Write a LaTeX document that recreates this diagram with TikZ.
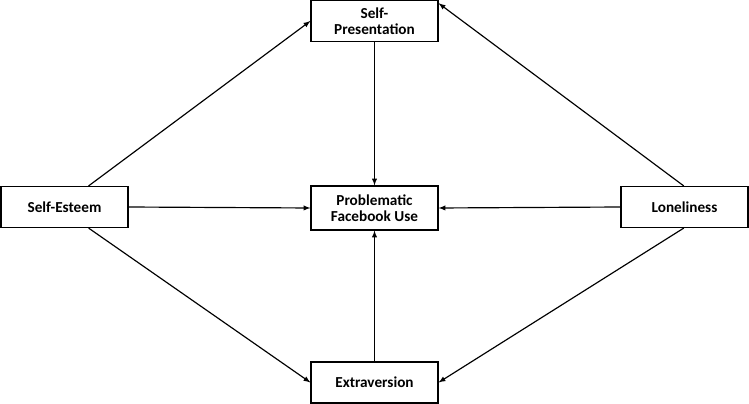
\documentclass[tikz,border=0pt]{standalone}
\usepackage{fontspec}
\setmainfont{Carlito}
\begin{document}
\begin{tikzpicture}[x=0.03cm,y=-0.03cm,
  box/.style={draw,line width=1pt,fill=white,minimum width=3.81cm,minimum height=1.23cm,font=\bfseries\fontsize{13}{14}\selectfont,align=center,inner sep=1pt},
  arr/.style={line width=1pt,-latex}]
\useasboundingbox (0,0) rectangle (749,404);
\node[box] (sp) at (374.5,21) {Self-\\Presentation};
\node[box] (se) at (64.5,207) {Self-Esteem};
\node[box,minimum height=1.32cm] (pfu) at (374.5,208) {Problematic\\Facebook Use};
\node[box] (lo) at (684.5,207) {Loneliness};
\node[box] (ex) at (374.5,382.5) {Extraversion};
\draw[arr] ([xshift=-1.2cm]se.north east) -- (sp.west);
\draw[arr] ([xshift=-1.2cm]se.south east) -- (ex.west);
\draw[arr] ([xshift=1.9cm]lo.north west) -- ([yshift=-0.1cm]sp.north east);
\draw[arr] ([xshift=1.9cm]lo.south west) -- (ex.east);
\draw[arr] (se.east) -- (pfu.west);
\draw[arr] (lo.west) -- (pfu.east);
\draw[arr] (sp.south) -- (pfu.north);
\draw[arr] (ex.north) -- (pfu.south);
\end{tikzpicture}
\end{document}
